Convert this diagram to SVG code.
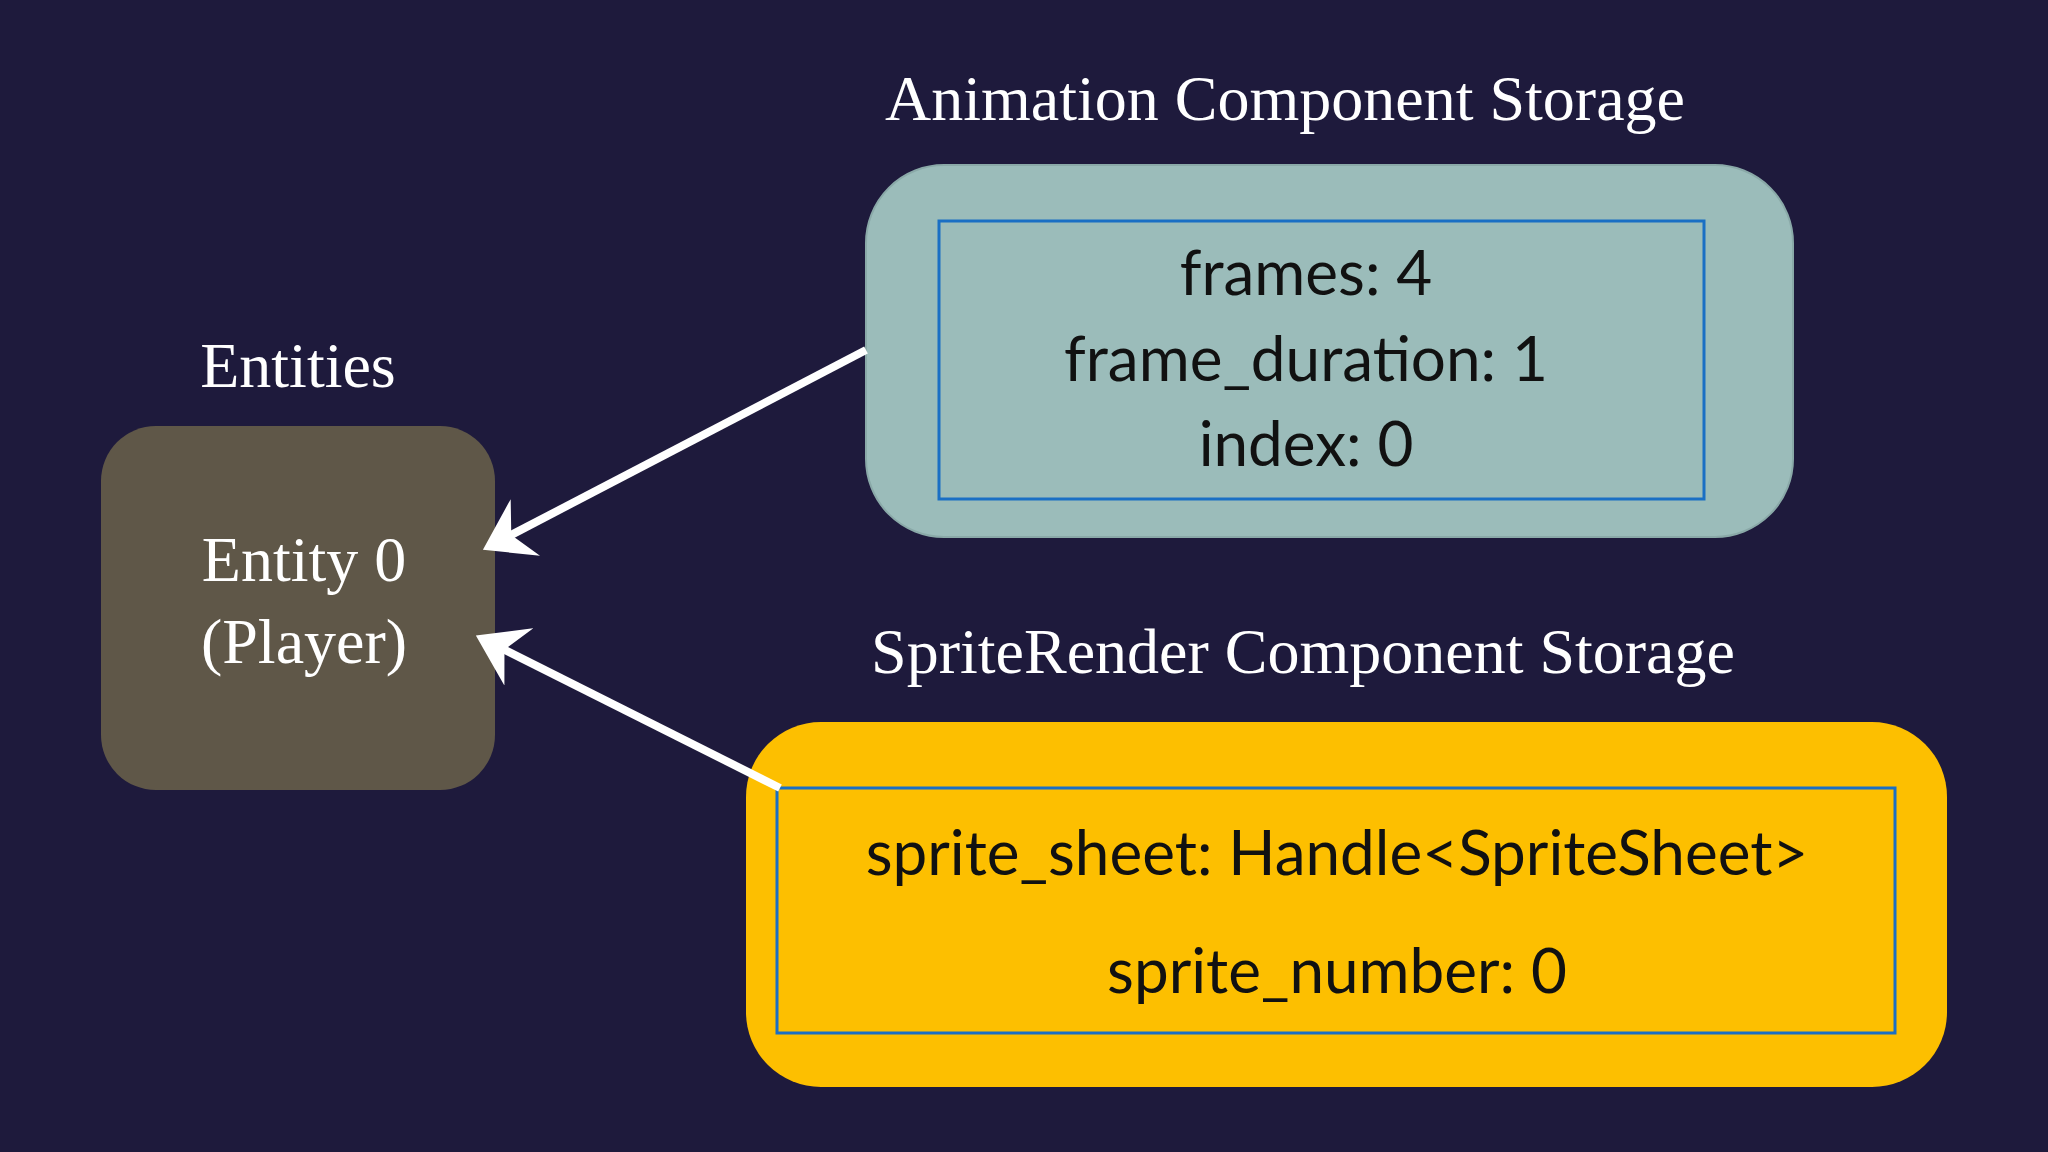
<svg xmlns="http://www.w3.org/2000/svg" width="2048" height="1152" viewBox="0 0 2048 1152">
<style>
.serif{font-family:"Liberation Serif","DejaVu Serif",serif;fill:#fff;font-size:64px;text-anchor:middle}
.sans{font-family:Lato,"Liberation Sans",sans-serif;fill:#111;font-size:62px;text-anchor:middle}
.inner{fill:none;stroke:#1a6fc4;stroke-width:3}
.conn{stroke:#fff;stroke-width:8;fill:none}
</style>
<defs>
<marker id="ah" markerWidth="8" markerHeight="8" refX="5" refY="4" orient="auto" markerUnits="strokeWidth" viewBox="0 0 8 8">
<path d="M0,0 L6,4 L0,8 L2,4 Z" fill="#fff"/>
</marker>
</defs>
<rect width="2048" height="1152" fill="#1e1a3c"/>
<g id="entity">
<text class="serif" x="298" y="387">Entities</text>
<rect x="101" y="426" width="394" height="364" rx="55" fill="#5f5748"/>
<text class="serif" x="304" y="581">Entity 0</text>
<text class="serif" x="304" y="663">(Player)</text>
</g>
<g id="animation">
<text class="serif" x="1285" y="120">Animation Component Storage</text>
<rect x="866" y="165" width="927" height="372" rx="78" fill="#9bbcba" stroke="#8aa9a8" stroke-width="2"/>
<rect class="inner" x="939" y="221" width="765" height="278"/>
<text class="sans" x="1306" y="295">frames: 4</text>
<text class="sans" x="1306" y="381">frame_duration: 1</text>
<text class="sans" x="1306" y="466">index: 0</text>
</g>
<g id="sprite">
<text class="serif" x="1303" y="673">SpriteRender Component Storage</text>
<rect x="746" y="722" width="1201" height="365" rx="75" fill="#fdbf00"/>
<rect class="inner" x="777" y="788" width="1118" height="245"/>
<text class="sans" x="1337" y="875">sprite_sheet: Handle&lt;SpriteSheet&gt;</text>
<text class="sans" x="1337" y="993">sprite_number: 0</text>
</g>
<g id="connectors">
<line class="conn" x1="866" y1="350" x2="490" y2="546" marker-end="url(#ah)"/>
<line class="conn" x1="780" y1="788" x2="483" y2="639" marker-end="url(#ah)"/>
</g>
</svg>
